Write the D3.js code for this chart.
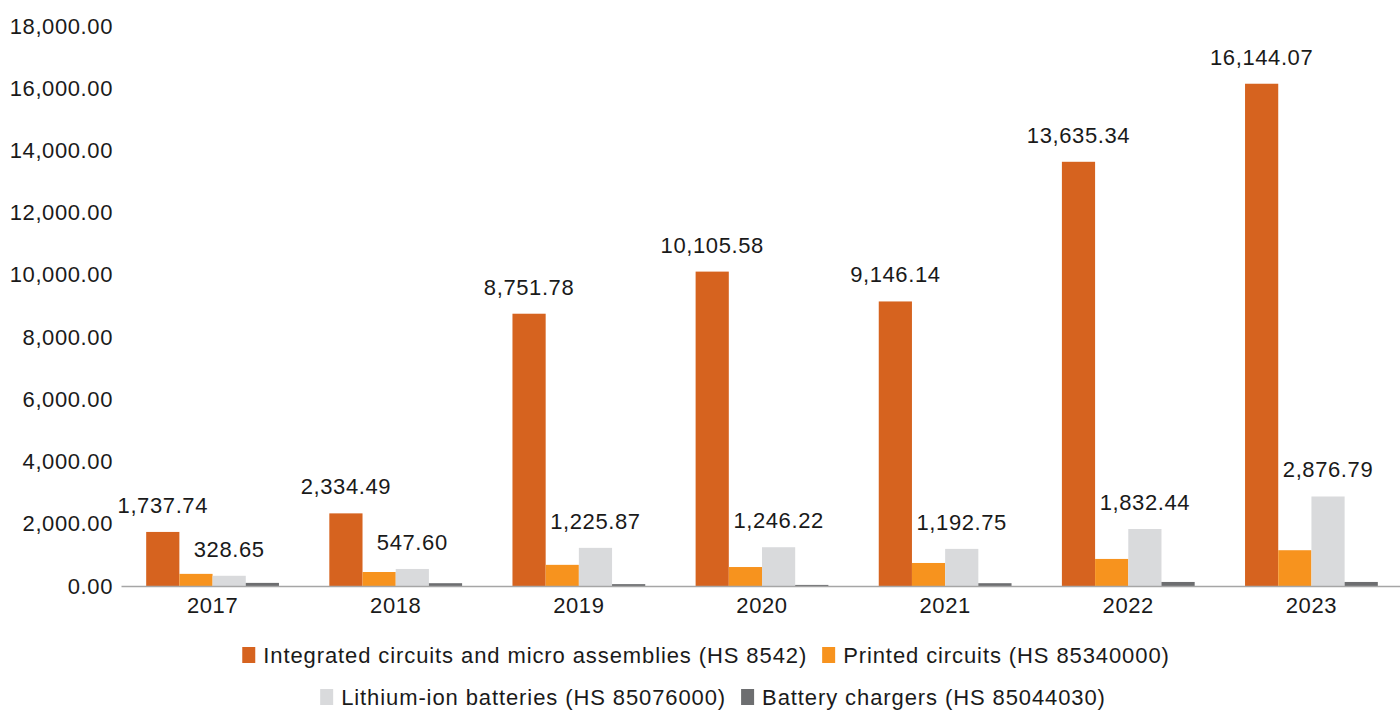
<!DOCTYPE html>
<html>
<head>
<meta charset="utf-8">
<script src="https://cdn.jsdelivr.net/npm/d3@7"></script>
<style>
  body { margin: 0; background: #fff; }
  svg { display: block; }
  text { font-family: "Liberation Sans", Arial, sans-serif; fill: #1a1a1a; }
  .tick text, .bar-label { font-size: 22px; letter-spacing: 0.6px; }
  .legend-text { font-size: 22px; letter-spacing: 0.9px; }
</style>
</head>
<body>
<svg width="1400" height="711"></svg>
<script>
// data
var years = ['2017', '2018', '2019', '2020', '2021', '2022', '2023'];
var seriesNames = [
  'Integrated circuits and micro assemblies (HS 8542)',
  'Printed circuits (HS 85340000)',
  'Lithium-ion batteries (HS 85076000)',
  'Battery chargers (HS 85044030)'
];
var integrated = [1737.74, 2334.49, 8751.78, 10105.58, 9146.14, 13635.34, 16144.07];
var printed = [390, 450, 680, 610, 740, 870, 1150];
var lithium = [328.65, 547.60, 1225.87, 1246.22, 1192.75, 1832.44, 2876.79];
var chargers = [100, 90, 60, 35, 90, 130, 130];
var yTicks = [0, 2000, 4000, 6000, 8000, 10000, 12000, 14000, 16000, 18000];
var labelled = [true, false, true, false]; // which series carry value labels

var colors = ['#d6631f', '#f7931e', '#d9dadc', '#6d6e70'];
var allSeries = [integrated, printed, lithium, chargers];

var svg = d3.select('svg');
var padding = {t: 26, l: 121, r: 1403, b: 586};

var x0 = d3.scaleBand()
    .domain(years)
    .range([padding.l, padding.r])
    .paddingInner(0.275)
    .paddingOuter(0.1375);

var x1 = d3.scaleBand()
    .domain(d3.range(seriesNames.length))
    .range([0, x0.bandwidth()]);

var y = d3.scaleLinear()
    .domain([0, 18000])
    .range([padding.b, padding.t]);

var color = d3.scaleOrdinal().domain(d3.range(4)).range(colors);

// y axis labels, no line
var yAxis = svg.append('g')
    .attr('transform', 'translate(' + padding.l + ',0)')
    .call(d3.axisLeft(y).tickValues(yTicks).tickFormat(d3.format(',.2f')).tickSize(0).tickPadding(8));
yAxis.select('.domain').remove();
yAxis.selectAll('text').style('font-family', null).style('font-size', null);

// bars
var groups = svg.selectAll('.year')
    .data(years)
    .enter()
    .append('g')
    .attr('class', 'year')
    .attr('transform', function(d) { return 'translate(' + x0(d) + ',0)'; });

groups.selectAll('rect')
    .data(function(d, i) {
        return allSeries.map(function(s, k) { return {k: k, v: s[i]}; });
    })
    .enter()
    .append('rect')
    .attr('x', function(d) { return x1(d.k); })
    .attr('width', x1.bandwidth())
    .attr('y', function(d) { return y(d.v); })
    .attr('height', function(d) { return y(0) - y(d.v); })
    .style('fill', function(d) { return color(d.k); });

groups.selectAll('.bar-label')
    .data(function(d, i) {
        return allSeries.map(function(s, k) { return {k: k, v: s[i]}; })
            .filter(function(d) { return labelled[d.k]; });
    })
    .enter()
    .append('text')
    .attr('class', 'bar-label')
    .attr('x', function(d) { return x1(d.k) + x1.bandwidth() / 2; })
    .attr('y', function(d) { return y(d.v) - 19; })
    .attr('text-anchor', 'middle')
    .text(function(d) { return d3.format(',.2f')(d.v); });

// x axis
var xAxis = svg.append('g')
    .attr('transform', 'translate(0,' + y(0) + ')')
    .call(d3.axisBottom(x0).tickSize(0).tickPadding(11));
xAxis.select('.domain').style('stroke', '#a6a6a6').style('stroke-width', 1.5);
xAxis.selectAll('text').style('font-family', null).style('font-size', null);

// legend, two centred rows
var rows = [[0, 1], [2, 3]];
var rowY = [655, 697];
var rowCenter = [706, 713];
rows.forEach(function(row, r) {
    var g = svg.append('g').attr('class', 'legend-row');
    var xPos = 0;
    row.forEach(function(k) {
        g.append('rect')
            .attr('x', xPos)
            .attr('y', rowY[r] - 8)
            .attr('width', 13)
            .attr('height', 16)
            .style('fill', color(k));
        var t = g.append('text')
            .attr('class', 'legend-text')
            .attr('x', xPos + 21)
            .attr('y', rowY[r] + 8)
            .text(seriesNames[k]);
        xPos += 21 + t.node().getComputedTextLength() + 15;
    });
    var w = xPos - 15;
    g.attr('transform', 'translate(' + (rowCenter[r] - w / 2) + ',0)');
});
</script>
</body>
</html>
